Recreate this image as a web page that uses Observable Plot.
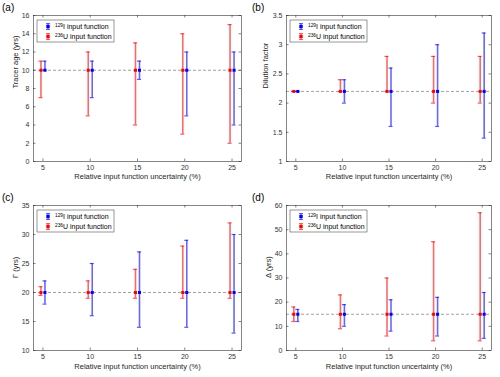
<!DOCTYPE html>
<html><head><meta charset="utf-8">
<script src="https://cdn.jsdelivr.net/npm/d3@7"></script>
<script src="https://cdn.jsdelivr.net/npm/@observablehq/plot@0.6"></script>
<style>
body{margin:0;background:#fff;}
#c{position:relative;width:500px;height:377px;overflow:hidden;font-family:"Liberation Sans",Arial,sans-serif;}
.p{position:absolute;}
.lab{position:absolute;font-size:10px;color:#000;line-height:1;}
</style></head><body><div id="c"></div>
<script>
// ---- shared data ----
const uncertainty = [5, 10, 15, 20, 25];
const xTicks = [5, 10, 15, 20, 25];
const xLabel = "Relative input function uncertainty (%)";
const seriesNames = ["129I input function", "236U input function"];

// (a) Tracer age
const ageTrue = 10;
const ageIodineLow  = [10, 7, 9, 5, 4];
const ageIodineHigh = [11, 11, 11, 12, 12];
const ageUraniumLow  = [7, 5, 4, 3, 2];
const ageUraniumHigh = [11, 12, 13, 14, 15];
const ageTicks = [0, 2, 4, 6, 8, 10, 12, 14, 16];

// (b) Dilution factor
const dilTrue = 2.2;
const dilIodineLow  = [2.2, 2.0, 1.6, 1.6, 1.4];
const dilIodineHigh = [2.2, 2.4, 2.6, 3.0, 3.2];
const dilUraniumLow  = [2.2, 2.2, 2.2, 2.0, 2.0];
const dilUraniumHigh = [2.2, 2.4, 2.8, 2.8, 2.8];
const dilTicks = [1, 1.5, 2, 2.5, 3, 3.5];

// (c) Gamma
const gamTrue = 20;
const gamIodineLow  = [18, 16, 14, 14, 13];
const gamIodineHigh = [22, 25, 27, 29, 30];
const gamUraniumLow  = [19.5, 19, 19, 19, 19];
const gamUraniumHigh = [21, 22, 24, 28, 32];
const gamTicks = [10, 15, 20, 25, 30, 35];

// (d) Delta
const delTrue = 15;
const delIodineLow  = [12, 10, 8, 6, 5];
const delIodineHigh = [17, 19, 21, 22, 24];
const delUraniumLow  = [12, 9, 6, 4, 4];
const delUraniumHigh = [18, 23, 30, 45, 57];
const delTicks = [0, 10, 20, 30, 40, 50, 60];

const RED = "#ff0000", BLUE = "#0000ff";
const xDomain = [4, 26];

function panel(o) {
  const rows = [];
  uncertainty.forEach((x, k) => {
    rows.push({s: "U", x, lo: o.uLo[k], hi: o.uHi[k], c: o.center});
    rows.push({s: "I", x, lo: o.iLo[k], hi: o.iHi[k], c: o.center});
  });
  const series = [
    {s: "U", color: RED, dx: -2},
    {s: "I", color: BLUE, dx: 2}
  ];
  const yDom = [o.yTicks[0], o.yTicks[o.yTicks.length - 1]];
  const marks = [
    Plot.ruleY([o.center], {stroke: "#8c8c8c", strokeWidth: 0.8, strokeDasharray: "3,2"})
  ];
  for (const se of series) {
    const d = rows.filter(r => r.s === se.s);
    marks.push(
      Plot.ruleX(d, {x: "x", y1: "lo", y2: "hi", stroke: se.color, strokeOpacity: 0.6, strokeWidth: 1.6, dx: se.dx}),
      Plot.ruleY(d, {y: "hi", x1: "x", x2: "x", insetLeft: -2, insetRight: -2, stroke: se.color, strokeOpacity: 0.65, strokeWidth: 1.2, dx: se.dx}),
      Plot.ruleY(d, {y: "lo", x1: "x", x2: "x", insetLeft: -2, insetRight: -2, stroke: se.color, strokeOpacity: 0.65, strokeWidth: 1.2, dx: se.dx}),
      Plot.dot(d, {x: "x", y: "c", symbol: "square", r: 1.7, fill: se.color, stroke: "none", dx: se.dx})
    );
  }
  marks.push(
    // inward ticks
    Plot.ruleX(xTicks, {x: d => d, y1: yDom[0], y2: yDom[0], insetTop: -2.5, stroke: "#333", strokeWidth: 0.6}),
    Plot.ruleX(xTicks, {x: d => d, y1: yDom[1], y2: yDom[1], insetBottom: -2.5, stroke: "#333", strokeWidth: 0.6}),
    Plot.ruleY(o.yTicks, {y: d => d, x1: xDomain[0], x2: xDomain[0], insetRight: -2.5, stroke: "#333", strokeWidth: 0.6}),
    Plot.ruleY(o.yTicks, {y: d => d, x1: xDomain[1], x2: xDomain[1], insetLeft: -2.5, stroke: "#333", strokeWidth: 0.6}),
    Plot.frame({stroke: "#333", strokeWidth: 0.6}),
    Plot.axisX({ticks: xTicks, tickSize: 0, tickPadding: 4, label: null, tickFormat: d => String(d)}),
    Plot.axisY({ticks: o.yTicks, tickSize: 0, tickPadding: 4, label: null, tickFormat: d => String(d)}),
    Plot.text([xLabel], {frameAnchor: "bottom", dy: o.xLabelDy, text: d => d, fontSize: 7.5, fill: "#262626"}),
    Plot.text([o.yLabel], {frameAnchor: "left", dx: o.yLabelDx, rotate: -90, text: d => d, fontSize: 7.5, fill: "#262626"})
  );
  const svg = Plot.plot({
    width: 250, height: o.height,
    marginTop: o.mt, marginBottom: o.mb, marginLeft: o.ml, marginRight: o.mr,
    x: {domain: xDomain},
    y: {domain: yDom},
    style: {fontFamily: '"Liberation Sans", Arial, sans-serif', fontSize: "7px", color: "#333", background: "transparent"},
    marks
  });
  // legend
  const g = d3.select(svg).append("g").attr("text-anchor", "start");
  const bx = o.ml + 4, by = o.mt + 5, bw = 77, bh = 22;
  g.append("rect").attr("x", bx).attr("y", by).attr("width", bw).attr("height", bh)
    .attr("fill", "#fff").attr("stroke", "#333").attr("stroke-width", 0.5);
  const legendItems = [
    {color: BLUE, sup: seriesNames[0].slice(0, 3), rest: seriesNames[0].slice(3)},
    {color: RED, sup: seriesNames[1].slice(0, 3), rest: seriesNames[1].slice(3)}
  ];
  legendItems.forEach((it, k) => {
    const cy = by + 6.5 + k * 10;
    const ix = bx + 11;
    g.append("line").attr("x1", ix).attr("x2", ix).attr("y1", cy - 3).attr("y2", cy + 3)
      .attr("stroke", it.color).attr("stroke-opacity", 0.6).attr("stroke-width", 1.3);
    for (const yy of [cy - 3, cy + 3]) {
      g.append("line").attr("x1", ix - 2).attr("x2", ix + 2).attr("y1", yy).attr("y2", yy)
        .attr("stroke", it.color).attr("stroke-opacity", 0.6).attr("stroke-width", 1.1);
    }
    g.append("rect").attr("x", ix - 1.7).attr("y", cy - 1.7).attr("width", 3.4).attr("height", 3.4).attr("fill", it.color);
    const t = g.append("text").attr("x", bx + 18).attr("y", cy + 2.4)
      .attr("text-anchor", "start").attr("font-size", 7).attr("fill", "#000");
    t.append("tspan").attr("font-size", 4.8).attr("dy", -2.4).text(it.sup);
    t.append("tspan").attr("dy", 2.4).text(it.rest);
  });
  const wrap = document.createElement("div");
  wrap.className = "p";
  wrap.style.left = o.left + "px";
  wrap.style.top = o.top + "px";
  wrap.appendChild(svg);
  document.getElementById("c").appendChild(wrap);
  const lab = document.createElement("div");
  lab.className = "lab";
  lab.style.left = (o.left + 2) + "px";
  lab.style.top = (o.top + o.mt - 12) + "px";
  lab.textContent = o.letter;
  document.getElementById("c").appendChild(lab);
}

panel({left: 0, top: 0, height: 190, mt: 15, mb: 29, ml: 33, mr: 9, xLabelDy: 17, yLabelDx: -18,
  yTicks: ageTicks, yLabel: "Tracer age (yrs)", center: ageTrue,
  iLo: ageIodineLow, iHi: ageIodineHigh, uLo: ageUraniumLow, uHi: ageUraniumHigh, letter: "(a)"});
panel({left: 250, top: 0, height: 190, mt: 15, mb: 29, ml: 36, mr: 9, xLabelDy: 17, yLabelDx: -21,
  yTicks: dilTicks, yLabel: "Dilution factor", center: dilTrue,
  iLo: dilIodineLow, iHi: dilIodineHigh, uLo: dilUraniumLow, uHi: dilUraniumHigh, letter: "(b)"});
panel({left: 0, top: 185, height: 192, mt: 20, mb: 27, ml: 33, mr: 9, xLabelDy: 18, yLabelDx: -18,
  yTicks: gamTicks, yLabel: "Γ (yrs)", center: gamTrue,
  iLo: gamIodineLow, iHi: gamIodineHigh, uLo: gamUraniumLow, uHi: gamUraniumHigh, letter: "(c)"});
panel({left: 250, top: 185, height: 192, mt: 20, mb: 27, ml: 36, mr: 9, xLabelDy: 18, yLabelDx: -18,
  yTicks: delTicks, yLabel: "Δ (yrs)", center: delTrue,
  iLo: delIodineLow, iHi: delIodineHigh, uLo: delUraniumLow, uHi: delUraniumHigh, letter: "(d)"});
</script></body></html>
